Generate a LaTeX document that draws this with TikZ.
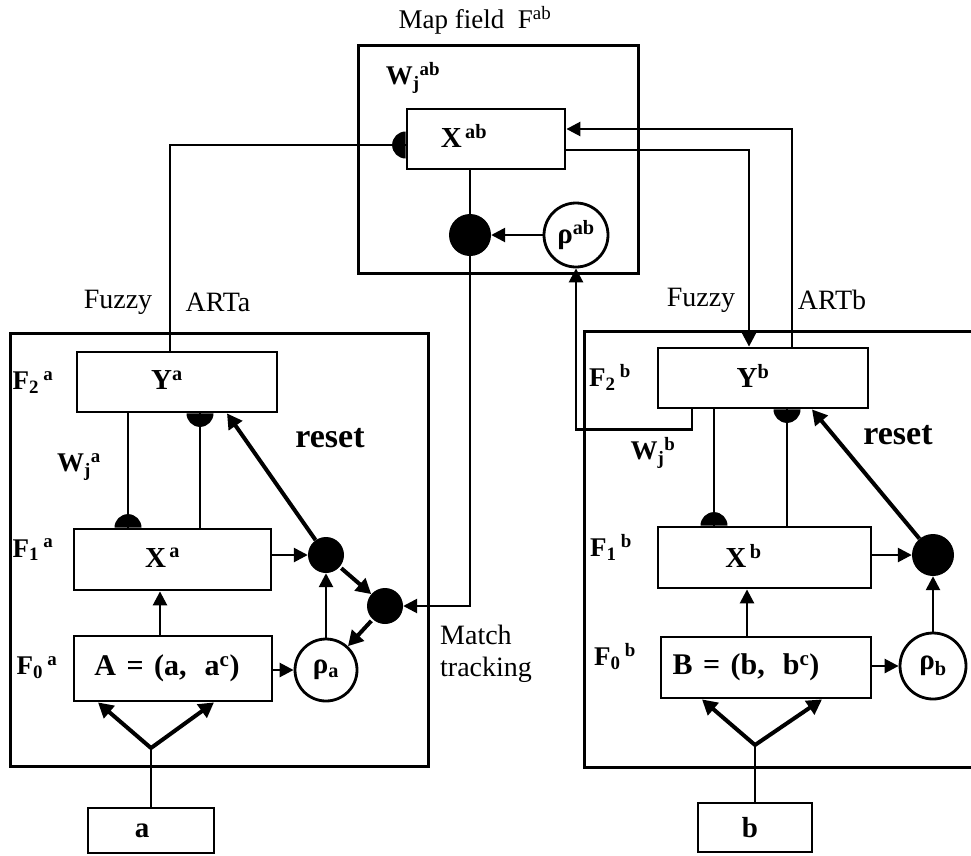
\documentclass[tikz,border=0pt]{standalone}
\usepackage{fontspec}
\setmainfont{Liberation Serif}
\usetikzlibrary{arrows.meta,calc}
\newcommand\hdisc[2]{\fill (#1) ++(#2+90:13.5pt) arc[start angle=#2+90, end angle=#2-90, radius=13.5pt] -- cycle;}
\begin{document}
\begin{tikzpicture}[x=1pt,y=-1pt,
  box/.style={draw, line width=2.8pt, inner sep=0pt, fill=white},
  frame/.style={draw, line width=3pt, inner sep=0pt},
  lab/.style={font=\bfseries\fontsize{27}{30}\selectfont, inner sep=0pt},
  blab/.style={font=\bfseries\fontsize{29}{32}\selectfont, inner sep=0pt},
  txt/.style={font=\fontsize{28}{32}\selectfont, inner sep=0pt},
  dot/.style={circle, fill=black, inner sep=0pt},
  ring/.style={circle, draw, line width=2.8pt, fill=white, inner sep=0pt, font=\bfseries\fontsize{29}{30}\selectfont},
  conn/.style={line width=2.6pt},
  arr/.style={conn, -{Triangle[length=14pt,width=14pt]}},
  tarr/.style={line width=4pt, -{Triangle[length=15pt,width=16pt]}}]
\useasboundingbox (0,0) rectangle (971,855);
\clip (0,0) rectangle (971,855);
\fill[white] (0,0) rectangle (971,855);

% frames
\node[frame, minimum width=280pt, minimum height=228pt] (mapf) at (498,159) {};
\node[frame, minimum width=418pt, minimum height=433pt] (arta) at (219,549.5) {};
\node[frame, minimum width=416pt, minimum height=436pt] (artb) at (792,549) {};

% map field
\node[txt, font=\fontsize{27}{30}\selectfont] (title) at (475,20) {Map field\enspace F\textsuperscript{ab}};
\node[lab] (wab) at (413,78) {W\textsubscript{j}\textsuperscript{ab}};
\node[box, minimum width=158pt, minimum height=60pt,
  label={[blab,xshift=-22pt,yshift=3pt]center:X\textsuperscript{\,ab}}] (Xab) at (486,139) {};
\node[dot, minimum size=42pt] (mab) at (470,235) {};
\node[ring, minimum size=64pt] (rhoab) at (576,235) {ρ\textsuperscript{ab}};

% left ART
\node[txt] (fza) at (118,302) {Fuzzy};
\node[txt] (arta-t) at (218,302) {ARTa};
\node[box, minimum width=200pt, minimum height=60pt,
  label={[blab,xshift=-10pt,yshift=2pt]center:Y\textsuperscript{a}}] (Ya) at (177,382) {};
\node[box, minimum width=197pt, minimum height=61pt,
  label={[blab,xshift=-10pt,yshift=2pt]center:X\textsuperscript{\,a}}] (Xa) at (172.5,559.5) {};
\node[box, minimum width=198pt, minimum height=65pt,
  label={[blab,font=\bfseries\fontsize{30}{32}\selectfont,xshift=-6pt]center:A\hspace{0.35em}=\hspace{0.35em}(a,\hspace{0.6em}a\textsuperscript{c})}] (A) at (173,668.5) {};
\node[box, minimum width=126pt, minimum height=45pt,
  label={[blab,xshift=-9pt]center:a}] (abox) at (151,830.5) {};
\node[lab] (f2a) at (33,383) {F\textsubscript{2}\,\textsuperscript{a}};
\node[lab] (f1a) at (33,550) {F\textsubscript{1}\,\textsuperscript{a}};
\node[lab] (f0a) at (37,668) {F\textsubscript{0}\,\textsuperscript{a}};
\node[lab] (wja) at (79,467) {W\textsubscript{j}\textsuperscript{a}};
\node[blab, font=\bfseries\fontsize{34}{36}\selectfont] (reseta) at (330,438) {reset};
\node[dot, minimum size=36pt] (ra) at (326,555) {};
\node[ring, minimum size=62pt] (rhoa) at (326,670) {ρ\textsubscript{a}};
\node[dot, minimum size=36pt] (mt) at (385,606) {};
\node[txt, anchor=west, align=left] (mtt) at (440,654) {Match\\tracking};

% right ART
\node[txt] (fzb) at (701,300) {Fuzzy};
\node[txt] (artb-t) at (832,300) {ARTb};
\node[box, minimum width=210pt, minimum height=60pt,
  label={[blab,xshift=-10pt,yshift=2pt]center:Y\textsuperscript{b}}] (Yb) at (763,378) {};
\node[box, minimum width=213pt, minimum height=61pt,
  label={[blab,xshift=-21pt,yshift=2pt]center:X\textsuperscript{\,b}}] (Xb) at (764.5,557.5) {};
\node[box, minimum width=210pt, minimum height=61pt,
  label={[blab,font=\bfseries\fontsize{30}{32}\selectfont,xshift=-20pt]center:B\hspace{0.35em}=\hspace{0.35em}(b,\hspace{0.6em}b\textsuperscript{c})}] (B) at (766,667.5) {};
\node[box, minimum width=114pt, minimum height=49pt,
  label={[blab,xshift=-5pt]center:b}] (bbox) at (755,827.5) {};
\node[lab] (f2b) at (610,377) {F\textsubscript{2}\,\textsuperscript{b}};
\node[lab] (f1b) at (611,547) {F\textsubscript{1}\,\textsuperscript{b}};
\node[lab] (f0b) at (615,657) {F\textsubscript{0}\,\textsuperscript{b}};
\node[lab] (wjb) at (653,453) {W\textsubscript{j}\textsuperscript{b}};
\node[blab, font=\bfseries\fontsize{34}{36}\selectfont] (resetb) at (898,435) {reset};
\node[dot, minimum size=42pt] (rb) at (933,555) {};
\node[ring, minimum size=66pt] (rhob) at (933,666) {ρ\textsubscript{b}};

% map field connectors
\draw[conn] (Xab.south -| mab) -- (mab);
\draw[arr] (mab) -- (mab |- mt) -- (mt);
\draw[arr] (rhoab) -- (mab);
\draw[arr] ([xshift=-71pt]Yb.south) -- ++(0,20) -| (rhoab.south);
\draw[conn] ([xshift=-7pt]Ya.north) |- ([yshift=-6pt]Xab.west);
\hdisc{[yshift=-6pt]Xab.west}{180}
\draw[arr] ([xshift=29pt]Yb.north) |- ([yshift=10pt]Xab.east);
\draw[arr] ([yshift=-11pt]Xab.east) -| ([xshift=-14pt]Yb.north);

% left ART connectors
\draw[arr] (Xa.east |- ra) -- (ra);
\draw[arr] (A.east |- rhoa) -- (rhoa);
\draw[arr] (rhoa) -- (ra);
\draw[tarr, shorten <=2pt] (ra) -- (mt);
\draw[tarr, shorten <=2pt] (mt) -- (rhoa);
\draw[tarr] (ra) -- ([xshift=50pt]Ya.south);
\draw[arr] ([xshift=-13pt]A.north) -- ([xshift=-13pt]A.north |- Xa.south);
\draw[conn] ([xshift=-49pt]Ya.south) -- ([xshift=-49pt]Ya.south |- Xa.north);
\hdisc{[xshift=-49pt]Ya.south |- Xa.north}{90}
\draw[conn] ([xshift=23pt]Ya.south) -- ([xshift=23pt]Ya.south |- Xa.north);
\hdisc{[xshift=23pt]Ya.south}{270}
\coordinate (fa) at (151,748);
\draw[conn] (abox.north) -- (fa);
\draw[tarr] (fa) -- ([xshift=-75pt]A.south);
\draw[tarr] (fa) -- ([xshift=41pt]A.south);

% right ART connectors
\draw[arr] (Xb.east |- rb) -- (rb);
\draw[arr] (B.east |- rhob) -- (rhob);
\draw[arr] (rhob) -- (rb);
\draw[tarr] (rb) -- ([xshift=49pt]Yb.south);
\draw[arr] ([xshift=-19pt]B.north) -- ([xshift=-19pt]B.north |- Xb.south);
\draw[conn] ([xshift=-49pt]Yb.south) -- ([xshift=-49pt]Yb.south |- Xb.north);
\hdisc{[xshift=-49pt]Yb.south |- Xb.north}{90}
\draw[conn] ([xshift=24pt]Yb.south) -- ([xshift=24pt]Yb.south |- Xb.north);
\hdisc{[xshift=24pt]Yb.south}{270}
\coordinate (fb) at (755,745);
\draw[conn] (bbox.north) -- (fb);
\draw[tarr] (fb) -- ([xshift=-64pt]B.south);
\draw[tarr] (fb) -- ([xshift=56pt]B.south);
\end{tikzpicture}
\end{document}
